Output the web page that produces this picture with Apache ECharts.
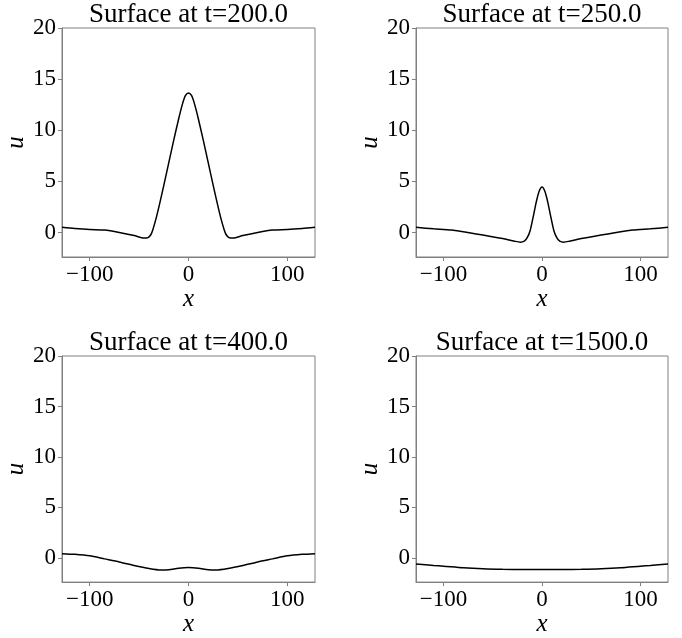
<!DOCTYPE html>
<html>
<head>
<meta charset="utf-8">
<script src="https://cdn.jsdelivr.net/npm/echarts@6/dist/echarts.min.js"></script>
<style>
html,body{margin:0;padding:0;background:#fff;}
#chart{width:682px;height:638px;}
</style>
</head>
<body>
<div id="chart"></div>
<script>
// ---- data ----
const titles = ['Surface at t=200.0', 'Surface at t=250.0', 'Surface at t=400.0', 'Surface at t=1500.0'];

const x200 = [-128,-115,-100,-85,-70,-55,-45,-41,-38,-36,-33,-29,-25,-20,-15,-10,-6,-3,0,3,6,10,15,20,25,29,33,36,38,41,45,55,70,85,100,115,128];
const u200 = [0.5,0.38,0.28,0.23,0.0,-0.3,-0.55,-0.5,-0.2,0.3,1.3,2.9,4.6,6.8,9.0,11.1,12.6,13.4,13.65,13.4,12.6,11.1,9.0,6.8,4.6,2.9,1.3,0.3,-0.2,-0.5,-0.55,-0.3,0.0,0.23,0.28,0.38,0.5];

const x250 = [-128,-110,-92,-80,-60,-40,-28,-22,-18,-15,-12,-9,-6,-3,0,3,6,9,12,15,18,22,28,40,60,80,92,110,128];
const u250 = [0.5,0.36,0.23,0.08,-0.25,-0.6,-0.85,-0.95,-0.85,-0.5,0.2,1.5,2.9,4.0,4.45,4.0,2.9,1.5,0.2,-0.5,-0.85,-0.95,-0.85,-0.6,-0.25,0.08,0.23,0.36,0.5];

const x400 = [-128,-115,-100,-85,-70,-55,-40,-28,-20,-10,0,10,20,28,40,55,70,85,100,115,128];
const u400 = [0.42,0.35,0.2,-0.1,-0.4,-0.75,-1.05,-1.2,-1.18,-1.02,-0.95,-1.02,-1.18,-1.2,-1.05,-0.75,-0.4,-0.1,0.2,0.35,0.42];

const x1500 = [-128,-110,-100,-80,-60,-40,-20,0,20,40,60,80,100,110,128];
const u1500 = [-0.6,-0.75,-0.82,-0.98,-1.08,-1.13,-1.15,-1.15,-1.15,-1.13,-1.08,-0.98,-0.82,-0.75,-0.6];

const xTicks = [-100, 0, 100];
const yTicks = [0, 5, 10, 15, 20];
const xRange = [-128, 128];
const yRange = [-2.4, 20];

// ---- chart ----
const seriesX = [x200, x250, x400, x1500];
const seriesU = [u200, u250, u400, u1500];
const grids = [
  {left: 62, top: 28, width: 253, height: 229},
  {left: 416, top: 28, width: 252, height: 229},
  {left: 62, top: 356, width: 253, height: 229},
  {left: 416, top: 356, width: 252, height: 229}
];
const FONT = '"Liberation Serif", "Times New Roman", serif';
const spine = '#808080';
const fmt = v => (v < 0 ? '\u2212' + Math.abs(v) : String(v));

const option = {
  backgroundColor: '#fff',
  animation: false,
  grid: grids.map(g => Object.assign({show: true, borderColor: spine, borderWidth: 1, backgroundColor: 'transparent'}, g)),
  xAxis: grids.map((g, i) => ({
    type: 'value', gridIndex: i, min: xRange[0], max: xRange[1],
    name: 'x', nameLocation: 'middle', nameGap: 29,
    nameTextStyle: {fontFamily: FONT, fontStyle: 'italic', fontSize: 25, color: '#000'},
    axisLine: {show: true, onZero: false, lineStyle: {color: spine, width: 1}},
    axisTick: {show: true, inside: false, length: 4, customValues: xTicks, lineStyle: {color: spine}},
    axisLabel: {customValues: xTicks, formatter: fmt, fontFamily: FONT, fontSize: 23, color: '#000', margin: 6},
    splitLine: {show: false}
  })),
  yAxis: grids.map((g, i) => ({
    type: 'value', gridIndex: i, min: yRange[0], max: yRange[1],
    name: 'u', nameLocation: 'middle', nameGap: i % 2 === 0 ? 29 : 32, nameRotate: 90,
    nameTextStyle: {fontFamily: FONT, fontStyle: 'italic', fontSize: 25, color: '#000'},
    axisLine: {show: true, onZero: false, lineStyle: {color: spine, width: 1}},
    axisTick: {show: true, inside: false, length: 4, customValues: yTicks, lineStyle: {color: spine}},
    axisLabel: {customValues: yTicks, formatter: fmt, fontFamily: FONT, fontSize: 23, color: '#000', margin: 6},
    splitLine: {show: false}
  })),
  series: seriesX.map((xs, i) => ({
    type: 'line', xAxisIndex: i, yAxisIndex: i,
    data: xs.map((x, k) => [x, seriesU[i][k]]),
    showSymbol: false, smooth: 0.25,
    lineStyle: {color: '#000', width: 1.5},
    clip: true
  })),
  graphic: grids.map((g, i) => ({
    type: 'text',
    x: g.left + g.width / 2,
    y: g.top - 13,
    style: {
      text: titles[i], textAlign: 'center', textVerticalAlign: 'middle',
      font: '27px ' + FONT, fill: '#000'
    }
  }))
};

const chart = echarts.init(document.getElementById('chart'), null, {renderer: 'canvas'});
chart.setOption(option);
</script>
</body>
</html>
